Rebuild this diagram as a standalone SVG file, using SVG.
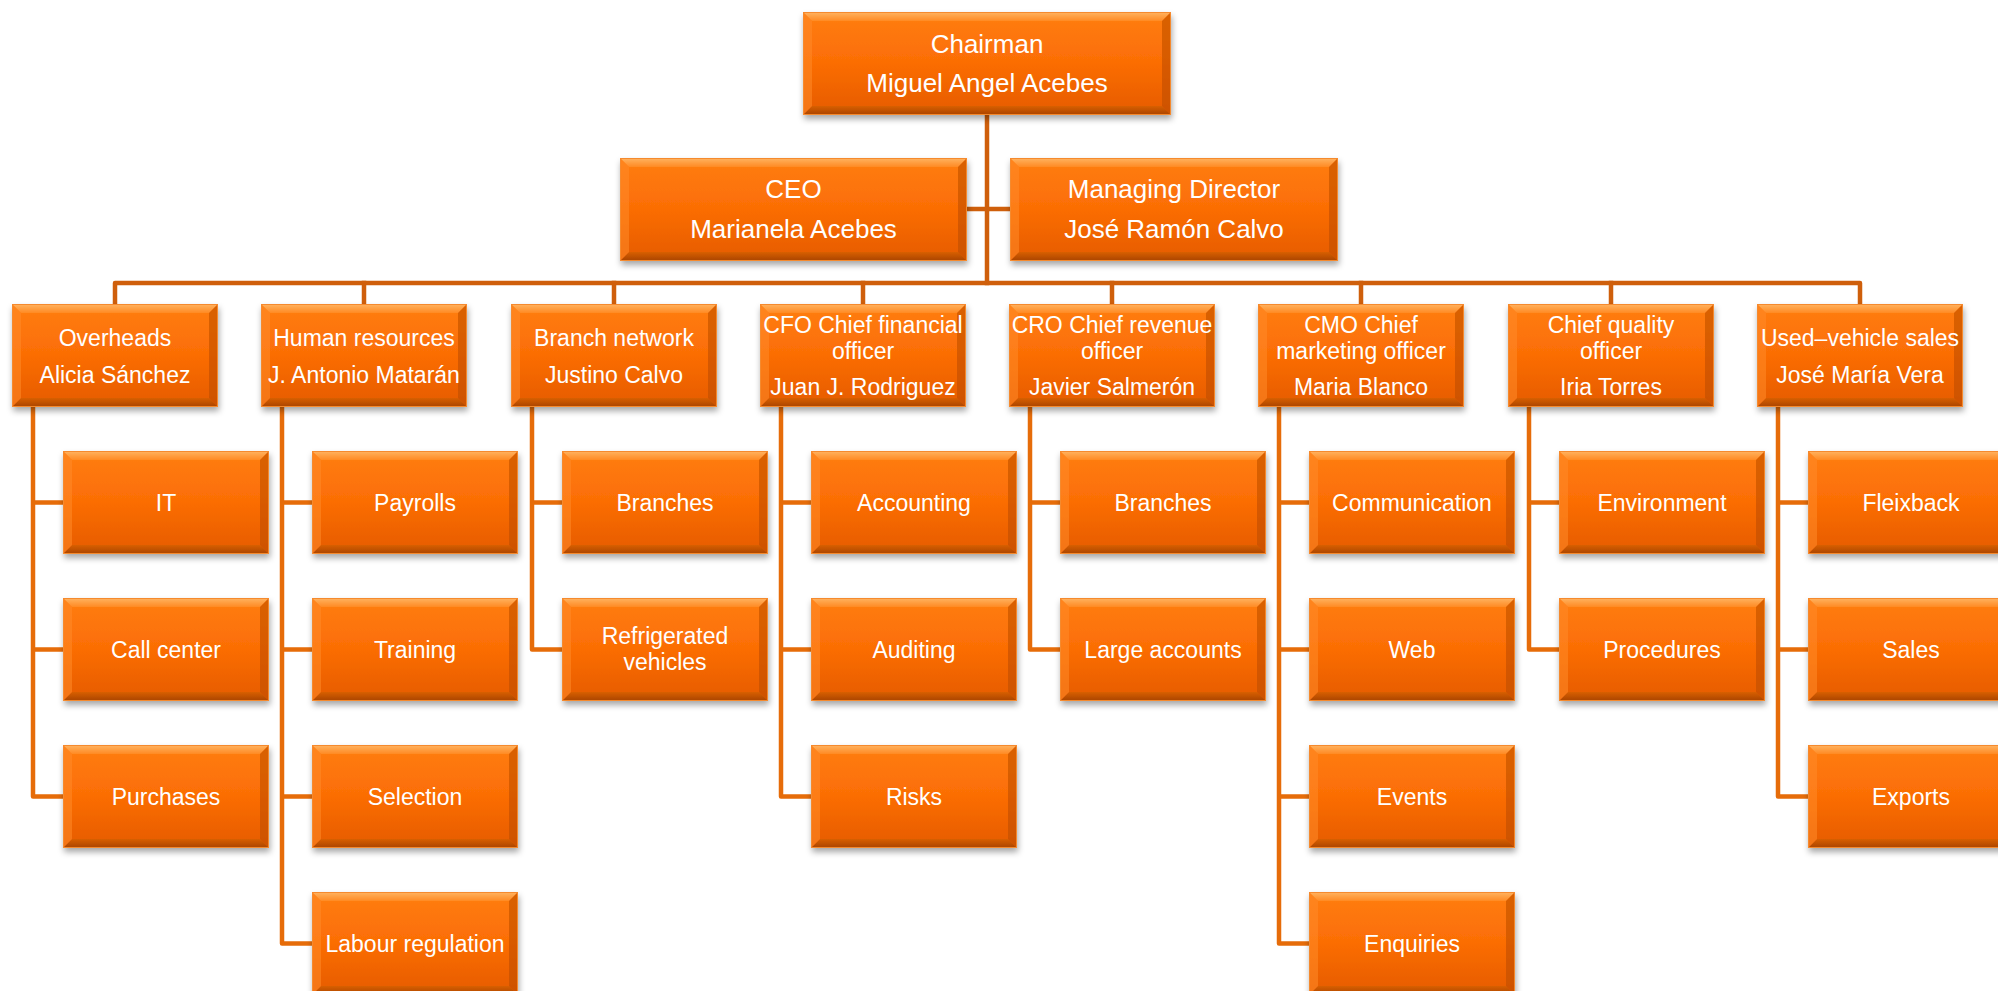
<svg xmlns="http://www.w3.org/2000/svg" xmlns:xlink="http://www.w3.org/1999/xlink" width="1998" height="991" viewBox="0 0 1998 991">
<style>
.t{font-family:"Liberation Sans",Arial,sans-serif;font-size:23px;fill:#ffffff;text-anchor:middle}
.tl{font-size:26px}
.bus{fill:none;stroke:#CF5F0B;stroke-width:4.5;stroke-linejoin:round;stroke-linecap:square}
.sub{fill:none;stroke:#E66C09;stroke-width:4.5;stroke-linejoin:round}
</style>
<defs>
<linearGradient id="gBase" x1="0" y1="0" x2="0" y2="1">
<stop offset="0" stop-color="#FF7E10"/><stop offset="0.5" stop-color="#FB6D05"/><stop offset="1" stop-color="#E55B04"/>
</linearGradient>
<linearGradient id="gTop" x1="0" y1="0" x2="0" y2="1">
<stop offset="0" stop-color="#FFB463"/><stop offset="1" stop-color="#FF8A22"/>
</linearGradient>
<linearGradient id="gBot" x1="0" y1="0" x2="0" y2="1">
<stop offset="0" stop-color="#D85F06"/><stop offset="1" stop-color="#A94400"/>
</linearGradient>
<filter id="sh" x="-10%" y="-10%" width="120%" height="130%">
<feDropShadow dx="1" dy="4" stdDeviation="3" flood-color="#000" flood-opacity="0.35"/>
</filter>
<g id="b206">
<rect width="206" height="103" fill="url(#gBase)"/>
<polygon points="0,0 206,0 197,9 9,9" fill="url(#gTop)"/>
<polygon points="0,103 206,103 197,94 9,94" fill="url(#gBot)"/>
<polygon points="0,0 9,9 9,94 0,103" fill="#FF8B2A" opacity="0.55"/>
<polygon points="206,0 197,9 197,94 206,103" fill="#B94A00" opacity="0.55"/>
<rect x="0.5" y="0.5" width="205" height="102" fill="none" stroke="#F58A2E" stroke-width="1"/>
</g>
<g id="b368">
<rect width="368" height="103" fill="url(#gBase)"/>
<polygon points="0,0 368,0 359,9 9,9" fill="url(#gTop)"/>
<polygon points="0,103 368,103 359,94 9,94" fill="url(#gBot)"/>
<polygon points="0,0 9,9 9,94 0,103" fill="#FF8B2A" opacity="0.55"/>
<polygon points="368,0 359,9 359,94 368,103" fill="#B94A00" opacity="0.55"/>
<rect x="0.5" y="0.5" width="367" height="102" fill="none" stroke="#F58A2E" stroke-width="1"/>
</g>
<g id="b347">
<rect width="347" height="103" fill="url(#gBase)"/>
<polygon points="0,0 347,0 338,9 9,9" fill="url(#gTop)"/>
<polygon points="0,103 347,103 338,94 9,94" fill="url(#gBot)"/>
<polygon points="0,0 9,9 9,94 0,103" fill="#FF8B2A" opacity="0.55"/>
<polygon points="347,0 338,9 338,94 347,103" fill="#B94A00" opacity="0.55"/>
<rect x="0.5" y="0.5" width="346" height="102" fill="none" stroke="#F58A2E" stroke-width="1"/>
</g>
<g id="b328">
<rect width="328" height="103" fill="url(#gBase)"/>
<polygon points="0,0 328,0 319,9 9,9" fill="url(#gTop)"/>
<polygon points="0,103 328,103 319,94 9,94" fill="url(#gBot)"/>
<polygon points="0,0 9,9 9,94 0,103" fill="#FF8B2A" opacity="0.55"/>
<polygon points="328,0 319,9 319,94 328,103" fill="#B94A00" opacity="0.55"/>
<rect x="0.5" y="0.5" width="327" height="102" fill="none" stroke="#F58A2E" stroke-width="1"/>
</g>
</defs>
<rect width="1998" height="991" fill="#ffffff"/>

<g id="connectors">
<path class="bus" d="M987 114 V283"/>
<path class="bus" d="M967 209 H1010"/>
<path class="bus" d="M115 304 V283 H1860 V304"/>
<path class="bus" d="M364 283 V304 M614 283 V304 M863 283 V304 M1112 283 V304 M1361 283 V304 M1611 283 V304"/>
<path class="sub" d="M33 407 V796.5 H63 M33 502.5 H63 M33 649.5 H63"/>
<path class="sub" d="M282 407 V943.5 H312 M282 502.5 H312 M282 649.5 H312 M282 796.5 H312"/>
<path class="sub" d="M532 407 V649.5 H562 M532 502.5 H562"/>
<path class="sub" d="M781 407 V796.5 H811 M781 502.5 H811 M781 649.5 H811"/>
<path class="sub" d="M1030 407 V649.5 H1060 M1030 502.5 H1060"/>
<path class="sub" d="M1279 407 V943.5 H1309 M1279 502.5 H1309 M1279 649.5 H1309 M1279 796.5 H1309"/>
<path class="sub" d="M1529 407 V649.5 H1559 M1529 502.5 H1559"/>
<path class="sub" d="M1778 407 V796.5 H1808 M1778 502.5 H1808 M1778 649.5 H1808"/>
</g>

<g id="chairman"><use href="#b368" x="803" y="12" filter="url(#sh)"/>
<text class="t tl" x="987" y="53">Chairman</text><text class="t tl" x="987" y="92">Miguel Angel Acebes</text></g>
<g id="ceo"><use href="#b347" x="620" y="158" filter="url(#sh)"/>
<text class="t tl" x="793.5" y="198">CEO</text><text class="t tl" x="793.5" y="238">Marianela Acebes</text></g>
<g id="md"><use href="#b328" x="1010" y="158" filter="url(#sh)"/>
<text class="t tl" x="1174" y="198">Managing Director</text><text class="t tl" x="1174" y="238">José Ramón Calvo</text></g>

<g id="overheads"><use href="#b206" x="12" y="304" filter="url(#sh)"/>
<text class="t" x="115" y="346">Overheads</text><text class="t" x="115" y="383">Alicia Sánchez</text></g>
<g id="hr"><use href="#b206" x="261" y="304" filter="url(#sh)"/>
<text class="t" x="364" y="346">Human resources</text><text class="t" x="364" y="383">J. Antonio Matarán</text></g>
<g id="branchnet"><use href="#b206" x="511" y="304" filter="url(#sh)"/>
<text class="t" x="614" y="346">Branch network</text><text class="t" x="614" y="383">Justino Calvo</text></g>
<g id="cfo"><use href="#b206" x="760" y="304" filter="url(#sh)"/>
<text class="t" x="863" y="333">CFO Chief financial</text><text class="t" x="863" y="359">officer</text><text class="t" x="863" y="395">Juan J. Rodriguez</text></g>
<g id="cro"><use href="#b206" x="1009" y="304" filter="url(#sh)"/>
<text class="t" x="1112" y="333">CRO Chief revenue</text><text class="t" x="1112" y="359">officer</text><text class="t" x="1112" y="395">Javier Salmerón</text></g>
<g id="cmo"><use href="#b206" x="1258" y="304" filter="url(#sh)"/>
<text class="t" x="1361" y="333">CMO Chief</text><text class="t" x="1361" y="359">marketing officer</text><text class="t" x="1361" y="395">Maria Blanco</text></g>
<g id="cqo"><use href="#b206" x="1508" y="304" filter="url(#sh)"/>
<text class="t" x="1611" y="333">Chief quality</text><text class="t" x="1611" y="359">officer</text><text class="t" x="1611" y="395">Iria Torres</text></g>
<g id="used"><use href="#b206" x="1757" y="304" filter="url(#sh)"/>
<text class="t" x="1860" y="346">Used–vehicle sales</text><text class="t" x="1860" y="383">José María Vera</text></g>

<g id="it"><use href="#b206" x="63" y="451" filter="url(#sh)"/><text class="t" x="166" y="511">IT</text></g>
<g id="callcenter"><use href="#b206" x="63" y="598" filter="url(#sh)"/><text class="t" x="166" y="658">Call center</text></g>
<g id="purchases"><use href="#b206" x="63" y="745" filter="url(#sh)"/><text class="t" x="166" y="805">Purchases</text></g>

<g id="payrolls"><use href="#b206" x="312" y="451" filter="url(#sh)"/><text class="t" x="415" y="511">Payrolls</text></g>
<g id="training"><use href="#b206" x="312" y="598" filter="url(#sh)"/><text class="t" x="415" y="658">Training</text></g>
<g id="selection"><use href="#b206" x="312" y="745" filter="url(#sh)"/><text class="t" x="415" y="805">Selection</text></g>
<g id="labour"><use href="#b206" x="312" y="892" filter="url(#sh)"/><text class="t" x="415" y="952">Labour regulation</text></g>

<g id="branches1"><use href="#b206" x="562" y="451" filter="url(#sh)"/><text class="t" x="665" y="511">Branches</text></g>
<g id="refrigerated"><use href="#b206" x="562" y="598" filter="url(#sh)"/><text class="t" x="665" y="644">Refrigerated</text><text class="t" x="665" y="670">vehicles</text></g>

<g id="accounting"><use href="#b206" x="811" y="451" filter="url(#sh)"/><text class="t" x="914" y="511">Accounting</text></g>
<g id="auditing"><use href="#b206" x="811" y="598" filter="url(#sh)"/><text class="t" x="914" y="658">Auditing</text></g>
<g id="risks"><use href="#b206" x="811" y="745" filter="url(#sh)"/><text class="t" x="914" y="805">Risks</text></g>

<g id="branches2"><use href="#b206" x="1060" y="451" filter="url(#sh)"/><text class="t" x="1163" y="511">Branches</text></g>
<g id="largeaccounts"><use href="#b206" x="1060" y="598" filter="url(#sh)"/><text class="t" x="1163" y="658">Large accounts</text></g>

<g id="communication"><use href="#b206" x="1309" y="451" filter="url(#sh)"/><text class="t" x="1412" y="511">Communication</text></g>
<g id="web"><use href="#b206" x="1309" y="598" filter="url(#sh)"/><text class="t" x="1412" y="658">Web</text></g>
<g id="events"><use href="#b206" x="1309" y="745" filter="url(#sh)"/><text class="t" x="1412" y="805">Events</text></g>
<g id="enquiries"><use href="#b206" x="1309" y="892" filter="url(#sh)"/><text class="t" x="1412" y="952">Enquiries</text></g>

<g id="environment"><use href="#b206" x="1559" y="451" filter="url(#sh)"/><text class="t" x="1662" y="511">Environment</text></g>
<g id="procedures"><use href="#b206" x="1559" y="598" filter="url(#sh)"/><text class="t" x="1662" y="658">Procedures</text></g>

<g id="fleixback"><use href="#b206" x="1808" y="451" filter="url(#sh)"/><text class="t" x="1911" y="511">Fleixback</text></g>
<g id="sales"><use href="#b206" x="1808" y="598" filter="url(#sh)"/><text class="t" x="1911" y="658">Sales</text></g>
<g id="exports"><use href="#b206" x="1808" y="745" filter="url(#sh)"/><text class="t" x="1911" y="805">Exports</text></g>
</svg>
